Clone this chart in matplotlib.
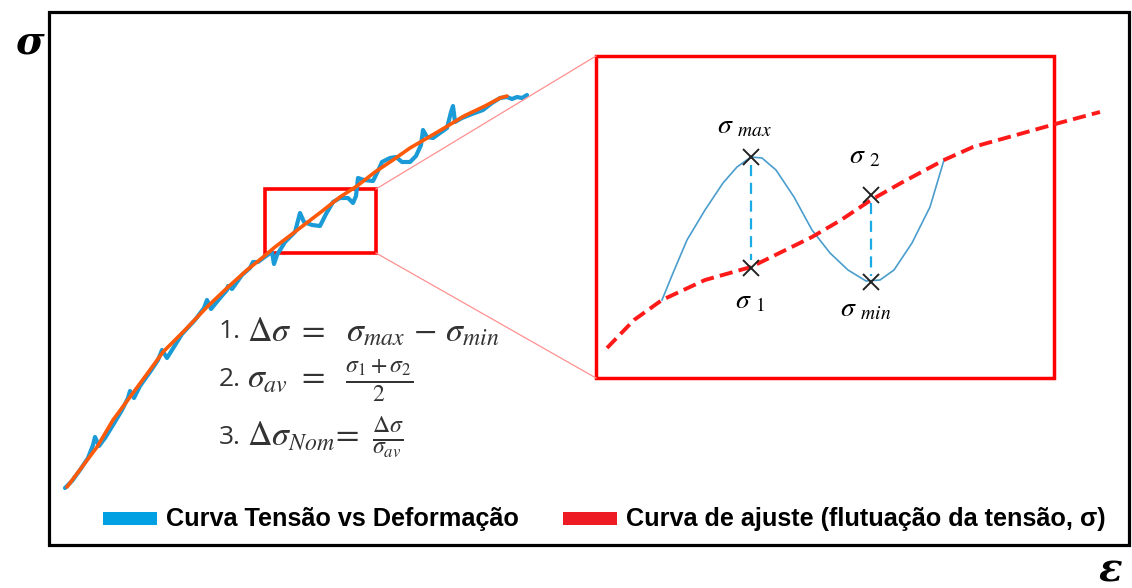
import matplotlib
matplotlib.use("Agg")
import matplotlib.pyplot as plt
from matplotlib.patches import Rectangle

plt.rcParams['mathtext.fontset'] = 'stix'

# coordenadas en píxeles de la figura (x a la derecha, y hacia abajo)
W, H = 1132, 588

# curva de ajuste (naranja) de la curva principal
fit_x = [67, 82, 97, 113, 130, 147, 163, 185, 207, 227, 247, 262, 275, 300, 321,
         340, 357, 375, 393, 410, 429, 446, 464, 485, 500, 507]
fit_y = [487, 467, 447, 420, 397, 374, 352, 330, 307, 288, 270, 258, 247, 228, 212,
         197, 186, 172, 160, 148, 137, 127, 116, 106, 98, 96]

# curva tensión vs deformación (azul) con serraciones
raw_x = [65, 72, 80, 88, 93, 95, 99, 105, 113, 122, 128, 130, 134, 140, 150, 158,
         162, 167, 172, 182, 195, 204, 207, 211, 220, 227, 228, 232, 242, 250, 253,
         258, 266, 272, 274, 277, 285, 295, 300, 304, 312, 320, 326, 333, 340, 348,
         353, 356, 358, 364, 373, 377, 382, 390, 396, 402, 410, 416, 421, 423, 427,
         433, 440, 447, 451, 453, 455, 462, 472, 483, 492, 500, 507, 512, 517, 522, 527]
raw_y = [488, 481, 470, 458, 445, 437, 446, 438, 425, 410, 398, 391, 398, 386, 372, 360,
         350, 358, 350, 334, 320, 308, 300, 309, 298, 290, 286, 289, 275, 268, 262,
         262, 256, 252, 264, 255, 242, 232, 213, 222, 225, 226, 214, 202, 198, 198,
         203, 196, 178, 180, 181, 173, 162, 158, 157, 162, 162, 156, 145, 130, 137,
         138, 133, 128, 112, 106, 122, 118, 114, 110, 103, 98, 97, 99, 97, 98, 95]

# detalle ampliado: curva de ajuste (roja discontinua)
zoom_fit_x = [607, 634, 662, 705, 751, 812, 841, 871, 901, 944, 973, 1009, 1059, 1100]
zoom_fit_y = [348, 320, 300, 280, 267, 237, 220, 200, 183, 160, 147, 137, 123, 112]

# detalle ampliado: oscilación de la tensión (azul fina)
wave_x = [662, 673, 687, 705, 723, 737, 751, 762, 776, 794, 812, 830, 848, 866,
          880, 894, 912, 930, 944]
wave_y = [300, 273, 240, 210, 183, 167, 157, 158, 170, 197, 230, 253, 270, 281,
          280, 270, 243, 207, 160]

# puntos característicos
pt_names = ['max', '1', '2', 'min']
pt_x = [751, 751, 871, 871]
pt_y = [157, 268, 195, 282]

fig = plt.figure(figsize=(W / 100, H / 100), dpi=100)
ax = fig.add_axes([0, 0, 1, 1])
ax.set_xlim(0, W)
ax.set_ylim(H, 0)
ax.axis('off')

# marco principal
ax.add_patch(Rectangle((49, 12), 1080, 533, fill=False, ec='black', lw=2.3))

# curvas principales
ax.plot(raw_x, raw_y, color='#1a9ad6', lw=3.0, solid_joinstyle='round', solid_capstyle='round')
ax.plot(fit_x, fit_y, color='#ff5a0a', lw=2.6, solid_capstyle='round')

# rectángulo pequeño, rectángulo grande y líneas de unión
ax.add_patch(Rectangle((265, 189), 111, 64, fill=False, ec='#ff0000', lw=2.6))
ax.add_patch(Rectangle((596, 56), 458, 322, fill=False, ec='#ff0000', lw=2.5))
ax.plot([376, 596], [189, 56], color='#ff9090', lw=0.9)
ax.plot([376, 596], [253, 378], color='#ff9090', lw=0.9)

# detalle
ax.plot(wave_x, wave_y, color='#4a9dcc', lw=1.2)
ax.plot(zoom_fit_x, zoom_fit_y, color='#ff1a1a', lw=2.8, dashes=(3.4, 1.6))
ax.plot([pt_x[0], pt_x[1]], [pt_y[0] + 8, pt_y[1] - 8], color='#1aaae6', lw=1.6, dashes=(5, 3))
ax.plot([pt_x[2], pt_x[3]], [pt_y[2] + 8, pt_y[3] - 6], color='#1aaae6', lw=1.6, dashes=(5, 3))
ax.plot(pt_x, pt_y, ls='none', marker='x', ms=11, mew=1.4, color='#222222')

lab_fs = 20
ax.text(745, 125, r'$\sigma\ _{max}$', fontsize=lab_fs, ha='center', va='center')
ax.text(750, 300, r'$\sigma\ _{\mathrm{1}}$', fontsize=lab_fs, ha='center', va='center')
ax.text(865, 155, r'$\sigma\ _{\mathrm{2}}$', fontsize=lab_fs, ha='center', va='center')
ax.text(866, 308, r'$\sigma\ _{min}$', fontsize=lab_fs, ha='center', va='center')

# fórmulas
num_kw = dict(fontsize=19, family='Open Sans', va='center', color='#333333')
math_kw = dict(fontsize=24.5, va='center', color='#333333')
ax.text(219, 332, '1.', **num_kw)
ax.text(247, 332, r'$\Delta\sigma\ =\ \ \sigma_{max}\,-\,\sigma_{min}$', **math_kw)
ax.text(219, 380, '2.', **num_kw)
ax.text(247, 380, r'$\sigma_{av}\ =\ \ \frac{\sigma_1 + \sigma_2}{2}$', **math_kw)
ax.text(219, 437, '3.', **num_kw)
ax.text(247, 437, r'$\Delta\sigma_{Nom}\!=\ \frac{\Delta\sigma}{\sigma_{av}}$', **math_kw)

# leyenda
ax.add_patch(Rectangle((103, 512), 54, 13, color='#00a0e3', lw=0))
ax.text(166, 519, 'Curva Tensão vs Deformação', fontsize=18.2, weight='bold',
        family='Liberation Sans', va='center')
ax.add_patch(Rectangle((563, 512), 54, 13, color='#ed1c24', lw=0))
ax.text(626, 519, 'Curva de ajuste (flutuação da tensão, σ)', fontsize=18.2, weight='bold',
        family='Liberation Sans', va='center')

# ejes
ax.text(30, 42, 'σ', fontsize=28, weight='bold', style='italic', family='DejaVu Serif',
        ha='center', va='center')
ax.text(1110, 570, 'ε', fontsize=28, weight='bold', style='italic', family='DejaVu Serif',
        ha='center', va='center')

fig.savefig('out.png', dpi=100)
